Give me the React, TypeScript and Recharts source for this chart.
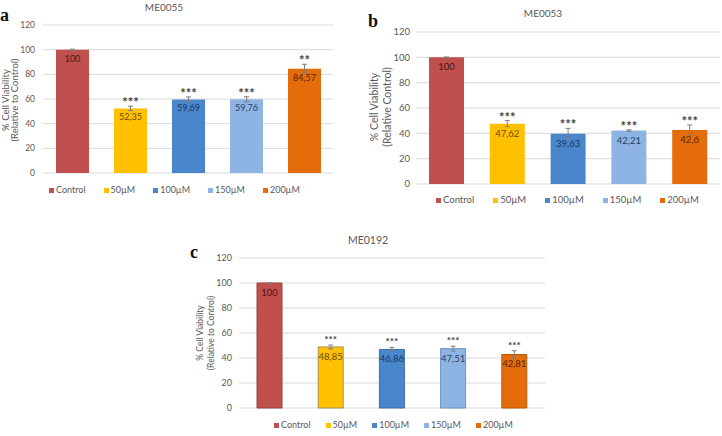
import React from 'react';
import {
  BarChart,
  Bar,
  XAxis,
  YAxis,
  CartesianGrid,
  ErrorBar,
  Cell,
  LabelList,
  Legend,
} from 'recharts';

// ---- data -------------------------------------------------------------
const categories = ['Control', '50µM', '100µM', '150µM', '200µM'];
const yTicks = [0, 20, 40, 60, 80, 100, 120];

const me0055Values = [100, 52.35, 59.69, 59.76, 84.57];
const me0055Errors = [0.4, 1.8, 2.0, 2.1, 3.6];
const me0055Stars = ['', '***', '***', '***', '**'];

const me0053Values = [100, 47.62, 39.63, 42.21, 42.6];
const me0053Errors = [0.3, 2.4, 4.3, 0.6, 4.0];
const me0053Stars = ['', '***', '***', '***', '***'];

const me0192Values = [100, 48.85, 46.86, 47.51, 42.81];
const me0192Errors = [0.3, 1.5, 1.6, 1.9, 3.0];
const me0192Stars = ['', '***', '***', '***', '***'];

// ---- styles -----------------------------------------------------------
const barColors = ['#C0504D', '#FFC000', '#4A86CC', '#8EB4E3', '#E46C0A'];
const valueColors = ['#4a1614', '#6b4d00', '#1b355a', '#22406a', '#5a2206'];
const edgeColors = ['#9a3e3b', '#a8924a', '#3c6ea8', '#7092bd', '#b8580c'];

const FONT = 'Lato, "Open Sans", sans-serif';
const TEXT = '#595959';
const GRID = '#D9D9D9';

type PanelProps = {
  values: number[];
  errors: number[];
  stars: string[];
  left: number;
  top: number;
  width: number;
  height: number;
  margin: { top: number; right: number; bottom: number; left: number };
  yAxisWidth: number;
  tickMargin: number;
  tickFont: number;
  barSize: number;
  valueFont: number;
  valueDrop: number;
  starFont: number;
  starLift: number;
  legendTop: number;
  legendLeft: number;
  legendGap: number;
  legendFont: number;
  bordered: boolean;
};

const fmt = (v: number) => String(v).replace('.', ',');

function Panel(p: PanelProps) {
  const rows = categories.map((name, i) => ({
    name,
    value: p.values[i],
    err: p.errors[i],
    label: fmt(p.values[i]),
    stars: p.stars[i],
  }));

  const box = (props: any) => {
    const vb = props.viewBox && props.viewBox.width !== undefined ? props.viewBox : props;
    return {
      x: Number(vb.x),
      y: Number(vb.y),
      w: Number(vb.width),
      h: Number(vb.height),
    };
  };

  const renderValue = (props: any) => {
    const { x, y, w } = box(props);
    const i = props.index ?? 0;
    return (
      <text
        x={x + w / 2}
        y={y + p.valueDrop}
        textAnchor="middle"
        fill={valueColors[i]}
        fontSize={p.valueFont}
        fontFamily={FONT}
      >
        {props.value}
      </text>
    );
  };

  const renderStars = (props: any) => {
    const { x, y, w, h } = box(props);
    const i = props.index ?? 0;
    if (!p.stars[i]) return null;
    const errPx = (h * p.errors[i]) / p.values[i];
    return (
      <text
        x={x + w / 2}
        y={y - errPx + p.starLift}
        textAnchor="middle"
        fill="#404040"
        fontSize={p.starFont}
        fontWeight="bold"
        fontFamily={FONT}
      >
        {p.stars[i]}
      </text>
    );
  };

  const renderLegend = () => (
    <div
      style={{
        display: 'flex',
        alignItems: 'center',
        paddingLeft: p.legendLeft,
        fontFamily: FONT,
        fontSize: p.legendFont,
        color: TEXT,
        lineHeight: '12px',
        whiteSpace: 'nowrap',
      }}
    >
      {categories.map((c, i) => (
        <span
          key={c}
          style={{ display: 'flex', alignItems: 'center', marginRight: p.legendGap }}
        >
          <span
            style={{
              display: 'inline-block',
              width: 5,
              height: 5,
              background: barColors[i],
              marginRight: 2,
            }}
          />
          {c}
        </span>
      ))}
    </div>
  );

  return (
    <div style={{ position: 'absolute', left: p.left, top: p.top }}>
      <BarChart width={p.width} height={p.height} data={rows} margin={p.margin}>
        <CartesianGrid vertical={false} stroke={GRID} strokeWidth={1} />
        <XAxis dataKey="name" hide />
        <YAxis
          domain={[0, 120]}
          ticks={yTicks}
          interval={0}
          width={p.yAxisWidth}
          axisLine={false}
          tickLine={false}
          tickSize={0}
          tickMargin={p.tickMargin}
          tick={{ fill: TEXT, fontSize: p.tickFont, fontFamily: FONT }}
        />
        <Legend
          verticalAlign="bottom"
          height={0}
          content={renderLegend}
          wrapperStyle={{ top: p.legendTop, left: 0, width: p.width }}
        />
        <Bar dataKey="value" barSize={p.barSize} isAnimationActive={false}>
          {rows.map((r, i) => (
            <Cell
              key={r.name}
              fill={barColors[i]}
              stroke={p.bordered ? edgeColors[i] : 'none'}
              strokeWidth={p.bordered ? 1 : 0}
            />
          ))}
          <ErrorBar
            dataKey="err"
            direction="y"
            width={2.5}
            stroke="#7F7F7F"
            strokeWidth={1}
            isAnimationActive={false}
          />
          <LabelList dataKey="label" content={renderValue} />
          <LabelList dataKey="stars" content={renderStars} />
        </Bar>
      </BarChart>
    </div>
  );
}

// rotated two-line axis caption
function AxisCaption(props: {
  cy: number;
  x1: number;
  x2: number;
  size: number;
  line1: string;
  line2: string;
}) {
  return (
    <text
      transform={`translate(0, ${props.cy}) rotate(-90)`}
      textAnchor="middle"
      fill={TEXT}
      fontSize={props.size}
      fontFamily={FONT}
    >
      <tspan x={0} y={props.x1}>
        {props.line1}
      </tspan>
      <tspan x={0} y={props.x2}>
        {props.line2}
      </tspan>
    </text>
  );
}

export default function App() {
  return (
    <div
      style={{
        position: 'absolute',
        left: 0,
        top: 0,
        width: 722,
        height: 436,
        background: '#fff',
        overflow: 'hidden',
      }}
    >
      <Panel
        values={me0055Values}
        errors={me0055Errors}
        stars={me0055Stars}
        left={0}
        top={0}
        width={340}
        height={200}
        margin={{ top: 25, right: 7, bottom: 15, left: 0 }}
        yAxisWidth={43}
        tickMargin={8}
        tickFont={8.5}
        barSize={33}
        valueFont={9}
        valueDrop={12}
        starFont={13}
        starLift={1}
        legendTop={184}
        legendLeft={49}
        legendGap={18}
        legendFont={9}
        bordered={false}
      />
      <Panel
        values={me0053Values}
        errors={me0053Errors}
        stars={me0053Stars}
        left={360}
        top={0}
        width={362}
        height={215}
        margin={{ top: 32, right: 2, bottom: 19, left: 0 }}
        yAxisWidth={56}
        tickMargin={6}
        tickFont={9.5}
        barSize={35}
        valueFont={9.5}
        valueDrop={13}
        starFont={13}
        starLift={1}
        legendTop={194}
        legendLeft={76}
        legendGap={19}
        legendFont={9.5}
        bordered={false}
      />
      <Panel
        values={me0192Values}
        errors={me0192Errors}
        stars={me0192Stars}
        left={180}
        top={220}
        width={366}
        height={216}
        margin={{ top: 38, right: 1, bottom: 16, left: 0 }}
        yAxisWidth={59}
        tickMargin={7}
        tickFont={9}
        barSize={25}
        valueFont={9.5}
        valueDrop={13}
        starFont={10}
        starLift={-2}
        legendTop={199}
        legendLeft={94}
        legendGap={15}
        legendFont={9}
        bordered={true}
      />
      <svg
        width={722}
        height={436}
        style={{ position: 'absolute', left: 0, top: 0, pointerEvents: 'none' }}
      >
        {/* panel titles */}
        <text x={164} y={11} textAnchor="middle" fill={TEXT} fontSize={10} fontFamily={FONT}>
          ME0055
        </text>
        <text x={543} y={17} textAnchor="middle" fill={TEXT} fontSize={10} fontFamily={FONT}>
          ME0053
        </text>
        <text x={368} y={244} textAnchor="middle" fill={TEXT} fontSize={10.5} fontFamily={FONT}>
          ME0192
        </text>
        {/* panel letters */}
        <text x={0} y={21} fontSize={18} fontWeight="bold" fontFamily='"Liberation Serif", serif' fill="#111">
          a
        </text>
        <text x={368} y={27} fontSize={18} fontWeight="bold" fontFamily='"Liberation Serif", serif' fill="#111">
          b
        </text>
        <text x={190} y={258} fontSize={18} fontWeight="bold" fontFamily='"Liberation Serif", serif' fill="#111">
          c
        </text>
        {/* y axis captions */}
        <AxisCaption cy={100} x1={8.5} x2={18} size={9.5} line1="% Cell Viability" line2="(Relative to Control)" />
        <AxisCaption cy={107} x1={378} x2={391} size={10.5} line1="% Cell Viability" line2="(Relative Control)" />
        <AxisCaption cy={333} x1={203} x2={214} size={8.5} line1="% Cell Viability" line2="(Relative to Control)" />
      </svg>
    </div>
  );
}
